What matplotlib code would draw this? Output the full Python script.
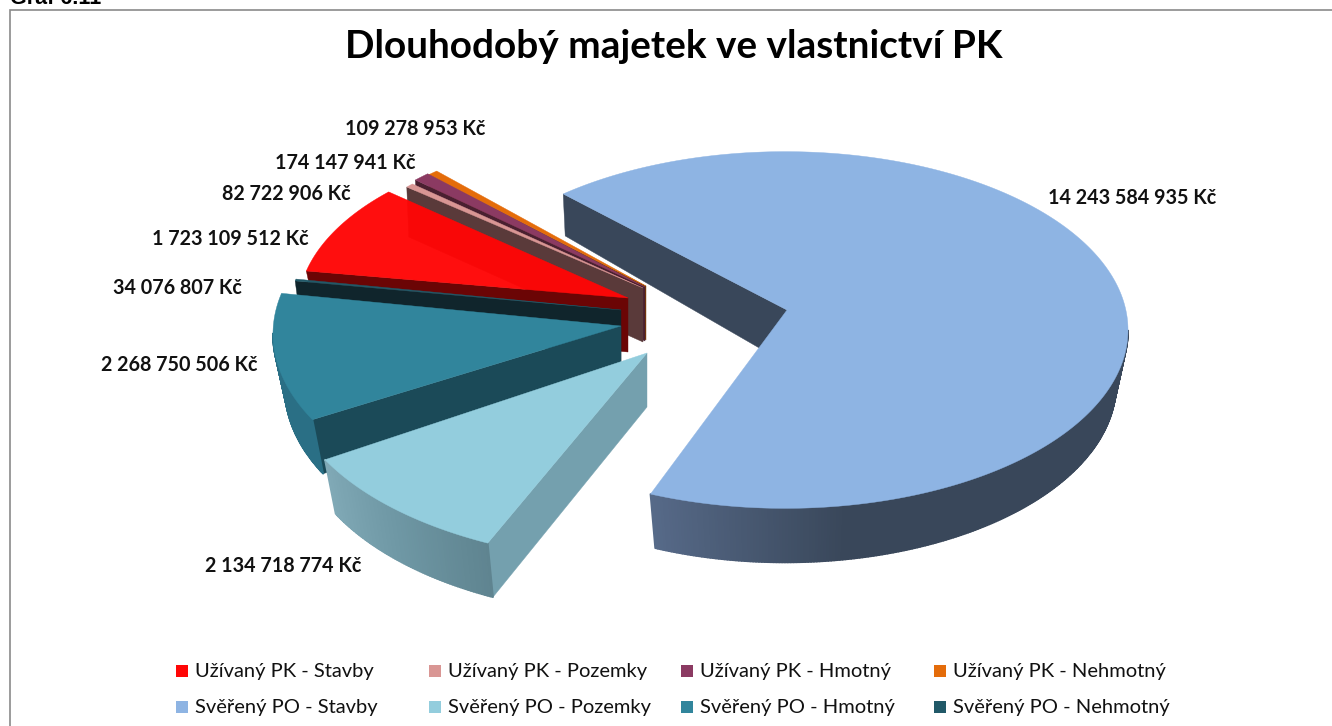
import numpy as np
import matplotlib
matplotlib.use('Agg')
import matplotlib.pyplot as plt
from matplotlib.collections import PolyCollection
from matplotlib.colors import to_rgb
from matplotlib.patches import Rectangle

plt.rcParams['font.family'] = ['Lato', 'DejaVu Sans']

categories = ['Užívaný PK - Stavby', 'Užívaný PK - Pozemky', 'Užívaný PK - Hmotný',
              'Užívaný PK - Nehmotný', 'Svěřený PO - Stavby', 'Svěřený PO - Pozemky',
              'Svěřený PO - Hmotný', 'Svěřený PO - Nehmotný']
values = [1723109512, 82722906, 174147941, 109278953,
          14243584935, 2134718774, 2268750506, 34076807]
colors = ['#ff0606', '#d99694', '#8b3a62', '#e46c0a',
          '#8eb4e3', '#93cddd', '#31859c', '#215968']
side_colors = ['#6b0505', '#5a3a3a', '#4a2030', '#7a3a05',
               '#39475a', '#74a0ae', '#1b4a58', '#10252c']

# pie layout in pixels, every slice is exploded by hand in the original
first_angle = 283
ell_center = [(623, 309), (645, 302), (648, 298), (649, 299),
              (785, 330), (646, 375), (637, 334), (637, 320)]
apex = [(628, 298), (643, 288), (645, 287), (646, 286),
        (787, 310), (647, 353), (621, 326), (621, 310)]
radius = [325, 325, 325, 325, 343, 360, 364, 350]
rim_depth = [54, 50, 50, 50, 42, 54, 54, 15]
# perspective bends the apparent angles a bit: (start, end) correction in degrees
angle_fix = [(0, 1), (0, 0), (0, 0), (0, 0), (0.5, -3), (0, 0), (0, 0), (0, 0)]
apex_depth = 54
wall_depth = 54
wall_inset = 12
squash = 0.52

# rim shading: (angle, colour)
rim_shades = {
    4: ([90, 170, 207], ['#39475a', '#39475a', '#5a6e8e']),
    5: ([206, 225, 243], ['#5f8490', '#6f98a5', '#80a9b6']),
    6: ([243, 270, 282], ['#2a6f85', '#2a6f85', '#2a6f85']),
}

label_text = ['1 723 109 512 Kč', '82 722 906 Kč', '174 147 941 Kč', '109 278 953 Kč',
              '14 243 584 935 Kč', '2 134 718 774 Kč', '2 268 750 506 Kč', '34 076 807 Kč']
label_pos = [(152, 239), (222, 194), (275, 163), (345, 129),
             (1048, 198), (205, 566), (101, 365), (113, 288)]


def rim(i, theta):
    t = np.radians(theta)
    cx, cy = ell_center[i]
    return np.column_stack([cx + radius[i] * np.sin(t),
                            cy - squash * radius[i] * np.cos(t)])


def shade(i, theta):
    angles, cols = rim_shades[i]
    rgb = np.array([to_rgb(c) for c in cols])
    return [np.interp(theta, angles, rgb[:, k]) for k in range(3)]


def wall_foot(p, theta):
    # lower edge of the pie is a little narrower than the top one
    return p + [-wall_inset * np.sin(np.radians(theta)), wall_depth]


def draw_slice(ax, i, start, sweep):
    start = start + angle_fix[i][0]
    sweep = sweep - angle_fix[i][0] + angle_fix[i][1]
    theta = np.linspace(start, start + sweep, max(int(sweep * 2), 4))
    pts = rim(i, theta)
    ax0, ay0 = apex[i]

    # radial face on the starting edge
    p0 = pts[0]
    if rim_depth[i] == wall_depth:
        foot = wall_foot(p0, theta[0])
    else:
        foot = p0 + [2, rim_depth[i]]
    ax.fill([ax0, p0[0], foot[0], ax0], [ay0, p0[1], foot[1], ay0 + apex_depth],
            color=side_colors[i], lw=0.3, zorder=3)

    # outer wall, only the part that faces the viewer
    if i in rim_shades:
        quads, cols = [], []
        for a, b, ta, tb in zip(pts[:-1], pts[1:], theta[:-1], theta[1:]):
            mid = ((ta + tb) / 2) % 360
            if not 90 <= mid <= 270:
                continue
            quads.append([a, b, wall_foot(b, tb), wall_foot(a, ta)])
            cols.append(shade(i, mid))
        if quads:
            ax.add_collection(PolyCollection(quads, facecolors=cols, edgecolors=cols,
                                             linewidths=1.3, zorder=3))

    # top surface
    ax.fill(np.r_[ax0, pts[:, 0]], np.r_[ay0, pts[:, 1]], color=colors[i],
            lw=0.3, zorder=3, alpha=0.97 if i == 0 else 1)


fig = plt.figure(figsize=(13.32, 7.26), dpi=100)
ax = fig.add_axes([0, 0, 1, 1])
ax.set_xlim(0, 1332)
ax.set_ylim(726, 0)
ax.axis('off')

# chart frame and the clipped caption above it
ax.add_patch(Rectangle((9.5, 9.5), 1340, 740, fc='white', ec='#8a8a8a', lw=1.2))
ax.text(10, 4, 'Graf 6.11', family='Liberation Sans', fontweight='bold', fontsize=15.5,
        ha='left', va='baseline', clip_on=False)

ax.text(674, 47, 'Dlouhodobý majetek ve vlastnictví PK', fontsize=27.9, fontweight='bold',
        ha='center', va='center', color='black')

sweeps = 360 * np.array(values) / np.sum(values)
starts = first_angle + np.r_[0, np.cumsum(sweeps)[:-1]]

# painter's order, back to front
for i in [4, 3, 2, 1, 0, 7, 6, 5]:
    draw_slice(ax, i, starts[i], sweeps[i])

for text, (x, y) in zip(label_text, label_pos):
    ax.text(x, y, text, fontsize=14.2, fontweight='bold', ha='left', va='center', color='#111111')

# legend, drawn by hand to keep the uneven column spacing
legend_x = [176, 429, 681, 934]
legend_y = [671, 707]
for i, name in enumerate(categories):
    x = legend_x[i % 4]
    y = legend_y[i // 4]
    ax.add_patch(Rectangle((x, y - 6), 12, 12, fc=colors[i], ec='none'))
    ax.text(x + 19, y, name, fontsize=14.5, ha='left', va='center', color='#111111')

fig.savefig('out.png', dpi=100)
